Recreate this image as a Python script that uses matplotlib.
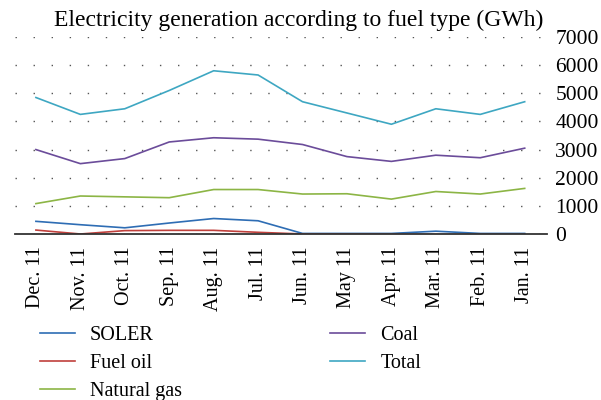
import matplotlib
matplotlib.use("Agg")
import matplotlib.pyplot as plt

# ---- Data ----
months = ["Dec. 11", "Nov. 11", "Oct. 11", "Sep. 11", "Aug. 11", "Jul. 11",
          "Jun. 11", "May 11", "Apr. 11", "Mar. 11", "Feb. 11", "Jan. 11"]
soler = [450, 330, 220, 390, 550, 470, 20, 20, 20, 100, 20, 20]
fuel_oil = [140, 0, 120, 130, 130, 60, 0, 0, -10, -20, -20, -20]
natural_gas = [1080, 1350, 1320, 1290, 1580, 1580, 1420, 1430, 1240, 1510, 1420, 1620]
coal = [3000, 2500, 2680, 3270, 3420, 3370, 3180, 2750, 2580, 2800, 2710, 3050]
total = [4850, 4250, 4450, 5100, 5800, 5650, 4700, 4300, 3900, 4450, 4250, 4700]
yticks = [0, 1000, 2000, 3000, 4000, 5000, 6000, 7000]

# ---- Style ----
plt.rcParams.update({
    "font.family": "serif",
    "font.serif": ["Liberation Serif", "DejaVu Serif"],
    "font.size": 15,
})

fig = plt.figure(figsize=(6.01, 4.0), dpi=100)
ax = fig.add_axes([0.025, 0.415, 0.885, 0.4925])

series = [
    ("SOLER", soler, "#2e6db4"),
    ("Fuel oil", fuel_oil, "#c0403c"),
    ("Natural gas", natural_gas, "#8cb545"),
    ("Coal", coal, "#6b4c9a"),
    ("Total", total, "#3ea7c2"),
]
x = list(range(len(months)))
handles = []
for name, vals, c in series:
    h, = ax.plot(x, vals, color=c, linewidth=1.2, label=name)
    handles.append(h)

ax.set_xlim(-0.47, 11.5)
ax.set_ylim(0, 7000)
ax.set_yticks(yticks)
ax.yaxis.tick_right()
ax.tick_params(axis="y", length=0, pad=6, labelsize=15.5)
ax.set_xticks(x)
ax.set_xticklabels(months, rotation=90, fontsize=14.5)
ax.tick_params(axis="x", length=0, pad=9)
ax.yaxis.grid(True, color="#555555", linestyle=(0, (1, 12)), linewidth=1.0)
ax.set_axisbelow(True)
for s in ["top", "left", "right"]:
    ax.spines[s].set_visible(False)
ax.spines["bottom"].set_color("#333333")
ax.spines["bottom"].set_linewidth(1.3)

fig.text(0.497, 0.95, "Electricity generation according to fuel type (GWh)",
         ha="center", va="center", fontsize=17)

leg_kw = dict(loc="upper left", frameon=False, handlelength=1.75,
              handletextpad=0.75, labelspacing=0.43, fontsize=14.5,
              borderaxespad=0, borderpad=0)
fig.legend(handles[:3], [s[0] for s in series[:3]],
           bbox_to_anchor=(0.066, 0.185), **leg_kw)
fig.legend(handles[3:], [s[0] for s in series[3:]],
           bbox_to_anchor=(0.549, 0.185), **leg_kw)

fig.savefig("out.png", dpi=100, facecolor="white")
